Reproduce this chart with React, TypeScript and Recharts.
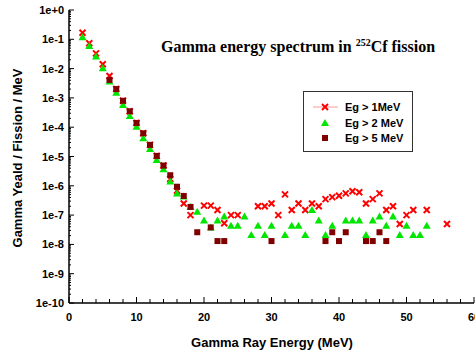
import { ScatterChart, Scatter, XAxis, YAxis, Legend } from 'recharts'

// energies (MeV) and yields per fission per MeV
const E1 = [2, 3, 4, 5, 6, 7, 8, 9, 10, 11, 12, 13, 14, 15, 16, 17, 18, 20, 21, 22, 23, 24, 25, 28, 29, 30, 31, 32, 33, 34, 35, 36, 37, 38, 39, 40, 41, 42, 43, 44, 45, 46, 47, 48, 49, 50, 51, 53, 56]
const Y1 = [0.168, 0.073, 0.033, 0.014, 0.0056, 0.002, 8.0e-4, 3.5e-4, 1.4e-4, 6.2e-5, 2.5e-5, 1.05e-5, 4.9e-6, 1.7e-6, 6.8e-7, 2.5e-7, 1.0e-7, 2.1e-7, 2.1e-7, 1.5e-7, 5.3e-8, 1.0e-7, 1.0e-7, 2.0e-7, 2.0e-7, 2.5e-7, 1.0e-7, 5.1e-7, 1.5e-7, 2.5e-7, 1.5e-7, 2.5e-7, 2.0e-7, 3.5e-7, 4.1e-7, 4.6e-7, 5.5e-7, 6.5e-7, 6.0e-7, 2.5e-7, 3.5e-7, 5.5e-7, 1.5e-7, 2.0e-7, 5.0e-8, 1.0e-7, 1.5e-7, 1.5e-7, 5.0e-8]

const E2 = [2, 3, 4, 5, 6, 7, 8, 9, 10, 11, 12, 13, 14, 15, 16, 17, 18, 19, 20, 21, 22, 23, 24, 25, 26, 27, 28, 29, 30, 32, 33, 34, 35, 36, 37, 38, 39, 41, 42, 43, 44, 45, 46, 47, 48, 49, 50, 51, 52, 53]
const Y2 = [0.117, 0.059, 0.026, 0.0102, 0.0036, 0.0015, 5.7e-4, 2.4e-4, 1.04e-4, 4.2e-5, 1.8e-5, 7.6e-6, 3.7e-6, 1.4e-6, 5.5e-7, 4.3e-7, 1.9e-7, 1.3e-7, 6.5e-8, 3.8e-8, 6.5e-8, 8.9e-8, 4.3e-8, 4.3e-8, 8.9e-8, 2.1e-8, 4.3e-8, 2.1e-8, 4.3e-8, 2.1e-8, 4.3e-8, 4.3e-8, 2.1e-8, 1.5e-7, 6.5e-8, 2.1e-8, 4.3e-8, 6.5e-8, 6.5e-8, 6.5e-8, 2.1e-8, 6.5e-8, 8.9e-8, 4.3e-8, 8.9e-8, 2.1e-8, 4.3e-8, 2.1e-8, 2.1e-8, 4.3e-8]

const E5 = [6, 7, 8, 9, 10, 11, 12, 13, 14, 15, 16, 17, 18, 19, 21, 22, 23, 30, 38, 39, 40, 41, 44, 45, 46, 47]
const Y5 = [0.0041, 0.002, 8.0e-4, 3.5e-4, 1.4e-4, 6.2e-5, 2.5e-5, 1.05e-5, 4.9e-6, 2.3e-6, 9.3e-7, 4.5e-7, 1.9e-7, 2.6e-8, 3.8e-8, 1.3e-8, 1.3e-8, 1.3e-8, 1.3e-8, 2.6e-8, 1.3e-8, 2.6e-8, 1.3e-8, 1.3e-8, 2.6e-8, 1.3e-8]

const X_TICKS = [0, 2, 4, 6, 8, 10, 12, 14, 16, 18, 20, 22, 24, 26, 28, 30, 32, 34, 36, 38, 40, 42, 44, 46, 48, 50, 52, 54, 56, 58, 60]
const Y_DECADES = [1, 1e-1, 1e-2, 1e-3, 1e-4, 1e-5, 1e-6, 1e-7, 1e-8, 1e-9, 1e-10]
const MINOR = [2, 3, 4, 5, 6, 7, 8, 9]
const Y_TICKS = [...Y_DECADES, ...Y_DECADES.slice(1).flatMap(d => MINOR.map(m => m * d))]

const toData = (xs: number[], ys: number[]) => xs.map((x, i) => ({ x, y: ys[i] }))

const RED = '#ff0000'
const GREEN = '#00e600'
const DARK = '#800000'
const FONT = "'Liberation Sans', Arial, sans-serif"

const isDecade = (v: number) => Math.abs(Math.log10(v) - Math.round(Math.log10(v))) < 1e-6

const Cross = ({ cx, cy }: any) => (
  <path d={`M${cx - 3},${cy - 3}L${cx + 3},${cy + 3}M${cx - 3},${cy + 3}L${cx + 3},${cy - 3}`} stroke={RED} strokeWidth={2} />
)
const Tri = ({ cx, cy }: any) => (
  <path d={`M${cx},${cy - 4}L${cx + 4},${cy + 3}L${cx - 4},${cy + 3}Z`} fill={GREEN} />
)
const Sq = ({ cx, cy }: any) => <rect x={cx - 3} y={cy - 3} width={6} height={6} fill={DARK} />

const BottomTick = ({ x, y, payload }: any) => {
  const major = payload.value % 10 === 0
  return (
    <g>
      <line x1={x} x2={x} y1={y} y2={y - (major ? 6 : 4)} stroke="#000" strokeWidth={1} />
      {major && (
        <text x={x} y={y + 18} textAnchor="middle" fontSize={11} fontWeight="bold" fontFamily={FONT} fill="#000">
          {payload.value}
        </text>
      )}
    </g>
  )
}
const TopTick = ({ x, y, payload }: any) => {
  const major = payload.value % 10 === 0
  return <line x1={x} x2={x} y1={y} y2={y + (major ? 6 : 4)} stroke="#000" strokeWidth={1} />
}
const LeftTick = ({ x, y, payload }: any) => {
  const major = isDecade(payload.value)
  return (
    <g>
      <line x1={x} x2={x + (major ? 5 : 2)} y1={y} y2={y} stroke="#000" strokeWidth={1} />
      {major && (
        <text x={x - 5} y={y + 4} textAnchor="end" fontSize={11} fontWeight="bold" fontFamily={FONT} fill="#000">
          {`1e${Math.round(Math.log10(payload.value)) === 0 ? '+0' : Math.round(Math.log10(payload.value))}`}
        </text>
      )}
    </g>
  )
}
const RightTick = ({ x, y, payload }: any) => {
  const major = isDecade(payload.value)
  return <line x1={x} x2={x - (major ? 5 : 2)} y1={y} y2={y} stroke="#000" strokeWidth={1} />
}

const LegendBox = () => (
  <div style={{ width: 108, height: 59, border: '1px solid #333', background: '#fff', fontFamily: FONT, fontSize: 11, fontWeight: 'bold', position: 'relative' }}>
    {[
      { label: 'Eg > 1MeV', sym: <Cross cx={12} cy={7} />, line: true },
      { label: 'Eg > 2 MeV', sym: <Tri cx={12} cy={7} /> },
      { label: 'Eg > 5 MeV', sym: <Sq cx={12} cy={7} /> },
    ].map((r, i) => (
      <div key={r.label} style={{ position: 'absolute', left: 9, top: 8 + i * 15.5, height: 14, display: 'flex', alignItems: 'center' }}>
        <svg width={26} height={14}>
          {r.line && <line x1={0} x2={25} y1={7} y2={7} stroke="#ff9999" strokeWidth={1} />}
          {r.sym}
        </svg>
        <span style={{ marginLeft: 6 }}>{r.label}</span>
      </div>
    ))}
  </div>
)

export default function App() {
  return (
    <div style={{ position: 'absolute', left: 0, top: 0, width: 475, height: 354, background: '#fff' }}>
      <ScatterChart width={475} height={354} margin={{ top: 10, right: 1, bottom: 0, left: 0 }}>
        <XAxis type="number" dataKey="x" domain={[0, 60]} ticks={X_TICKS} interval={0} height={51}
          tickSize={0} tickMargin={0} tickLine={false} tick={<BottomTick />}
          axisLine={{ stroke: '#000', strokeWidth: 1.5 }} />
        <XAxis xAxisId="top" orientation="top" type="number" domain={[0, 60]} ticks={X_TICKS} interval={0} height={0}
          tickSize={0} tickMargin={0} tickLine={false} tick={<TopTick />}
          axisLine={{ stroke: '#000', strokeWidth: 1.5 }} />
        <YAxis type="number" dataKey="y" scale="log" domain={[1e-10, 1]} allowDataOverflow ticks={Y_TICKS} interval={0} width={69}
          tickSize={0} tickMargin={0} tickLine={false} tick={<LeftTick />}
          axisLine={{ stroke: '#000', strokeWidth: 1.5 }} />
        <YAxis yAxisId="right" orientation="right" type="number" scale="log" domain={[1e-10, 1]} allowDataOverflow ticks={Y_TICKS} interval={0} width={0}
          tickSize={0} tickMargin={0} tickLine={false} tick={<RightTick />}
          axisLine={{ stroke: '#000', strokeWidth: 1.5 }} />
        <Legend layout="horizontal" verticalAlign="middle" align="center" content={<LegendBox />}
          wrapperStyle={{ position: 'absolute', left: 303, top: 91, width: 110 }} />
        <Scatter name="Eg > 1MeV" data={toData(E1, Y1)} shape={<Cross />} isAnimationActive={false} />
        <Scatter name="Eg > 2 MeV" data={toData(E2, Y2)} shape={<Tri />} isAnimationActive={false} />
        <Scatter name="Eg > 5 MeV" data={toData(E5, Y5)} shape={<Sq />} isAnimationActive={false} />
      </ScatterChart>
      <div style={{ position: 'absolute', left: 161, top: 37, fontFamily: "'Liberation Serif', 'Times New Roman', serif", fontWeight: 'bold', fontSize: 16, whiteSpace: 'nowrap', color: '#000' }}>
        Gamma energy spectrum in <sup style={{ fontSize: 10 }}>252</sup>Cf fission
      </div>
      <div style={{ position: 'absolute', left: 272, top: 342, transform: 'translate(-50%, -50%)', fontFamily: FONT, fontWeight: 'bold', fontSize: 13, whiteSpace: 'nowrap' }}>
        Gamma Ray Energy (MeV)
      </div>
      <div style={{ position: 'absolute', left: 17, top: 158, transform: 'translate(-50%, -50%) rotate(-90deg)', fontFamily: FONT, fontWeight: 'bold', fontSize: 13, whiteSpace: 'nowrap' }}>
        Gamma Yeald / Fission / MeV
      </div>
    </div>
  )
}
